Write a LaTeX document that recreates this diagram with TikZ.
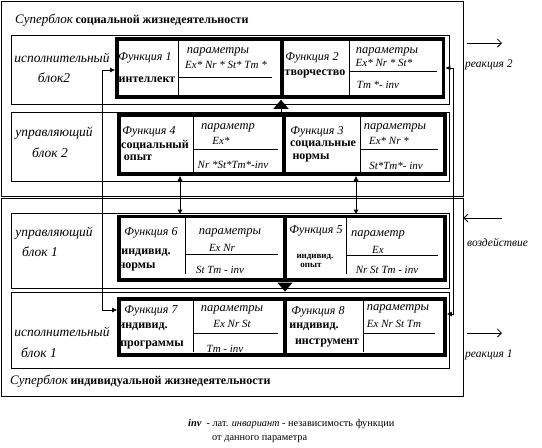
\documentclass[tikz,border=0pt]{standalone}
\usepackage{fontspec}
\setmainfont{Liberation Serif}
\usetikzlibrary{arrows.meta}
\begin{document}
\begin{tikzpicture}[x=1pt,y=-1pt,
  thin line/.style={line width=0.8pt},
  sblock/.style={draw, thin line, rectangle, inner sep=0},
  rowbox/.style={draw, thin line, rectangle, inner sep=0},
  fbox/.style={draw, line width=3.6pt, rectangle, inner sep=0},
  divl/.style={thin line},
  lbl/.style={font=\fontsize{13.5}{15}\selectfont\itshape, inner sep=0},
  fn/.style={font=\fontsize{12}{13}\selectfont\itshape, inner sep=0},
  bd/.style={font=\fontsize{12}{13}\selectfont\bfseries, inner sep=0},
  sbd/.style={font=\fontsize{9}{10}\selectfont\bfseries, inner sep=0},
  pmc/.style={font=\fontsize{12.5}{14}\selectfont\itshape, inner sep=0},
  pm/.style={font=\fontsize{11}{12}\selectfont\itshape, inner sep=0},
  side/.style={font=\fontsize{11.5}{13}\selectfont\itshape, inner sep=0},
  txt/.style={font=\fontsize{10.3}{11}\selectfont, inner sep=0},
  conn/.style={thin line, {Latex[length=5pt,width=5pt]}-{Latex[length=5pt,width=5pt]}},
  outarr/.style={thin line, -{Straight Barb[length=4pt,width=8pt]}},
  bigtri/.style={thin line, -{Triangle[length=9pt,width=15pt]}}
]
\useasboundingbox (0,0) rectangle (542,448);

% superblocks
\node[sblock, minimum width=462pt, minimum height=195pt] (sup1) at (232,98.5) {};
\node[sblock, minimum width=462pt, minimum height=198pt] (sup2) at (232,297) {};

% rows
\node[rowbox, minimum width=438pt, minimum height=69pt] (row1) at (230,69.5) {};
\node[rowbox, minimum width=438pt, minimum height=69pt] (row2) at (230,146.5) {};
\node[rowbox, minimum width=438pt, minimum height=75pt] (row3) at (230,250.5) {};
\node[rowbox, minimum width=438pt, minimum height=76pt] (row4) at (230,330) {};

% function boxes
\node[fbox, minimum width=165pt, minimum height=58pt] (f1) at (199.5,68) {};
\node[fbox, minimum width=161.5pt, minimum height=58pt] (f2) at (362.75,68) {};
\node[fbox, minimum width=165pt, minimum height=59pt] (f4) at (201.5,144.5) {};
\node[fbox, minimum width=161pt, minimum height=59pt] (f3) at (364.5,144.5) {};
\node[fbox, minimum width=166pt, minimum height=63.5pt] (f6) at (202,248.25) {};
\node[fbox, minimum width=160pt, minimum height=63.5pt] (f5) at (365,248.25) {};
\node[fbox, minimum width=166pt, minimum height=56pt] (f7) at (202,327) {};
\node[fbox, minimum width=160pt, minimum height=56pt] (f8) at (365,327) {};

% dividers
\draw[divl] (178,41) -- (178,95) (178,77) -- (272,77);
\draw[divl] (349,41) -- (349,95) (349,71) -- (437,71);
\draw[divl] (193,117) -- (193,172) (193,149) -- (278,149);
\draw[divl] (360,117) -- (360,172) (360,149) -- (438,149);
\draw[divl] (185,218) -- (185,274) (185,254) -- (278,254);
\draw[divl] (346,218) -- (346,274) (346,255) -- (438,255);
\draw[divl] (193,301) -- (193,352) (193,333) -- (278,333);
\draw[divl] (363,301) -- (363,352) (363,333) -- (435,333);

% titles
\node[anchor=west, inner sep=0] (t1) at (15,20) {{\fontsize{13}{14}\selectfont\itshape Суперблок} {\fontsize{12}{14}\selectfont\bfseries социальной жизнедеятельности}};
\node[anchor=west, inner sep=0] (t2) at (10,381) {{\fontsize{13}{14}\selectfont\itshape Суперблок} {\fontsize{12}{14}\selectfont\bfseries индивидуальной жизнедеятельности}};

% row labels
\node[lbl] (l1a) at (62,58) {исполнительный};
\node[lbl] (l1b) at (54,78) {блок2};
\node[lbl] (l2a) at (54,133) {управляющий};
\node[lbl] (l2b) at (50,153) {блок 2};
\node[lbl] (l3a) at (54,233) {управляющий};
\node[lbl] (l3b) at (40,252) {блок 1};
\node[lbl] (l4a) at (62,332) {исполнительный};
\node[lbl] (l4b) at (39,353) {блок 1};

% F1
\node[fn] (f1a) at (145,58) {Функция 1};
\node[bd] (f1b) at (147,80) {интеллект};
\node[pmc] (f1c) at (218,52) {параметры};
\node[pm] (f1d) at (226,65) {Ex* Nr * St* Tm *};
% F2
\node[fn] (f2a) at (312,58) {Функция 2};
\node[bd] (f2b) at (315,74) {творчество};
\node[pmc] (f2c) at (387,52) {параметры};
\node[pm] (f2d) at (384,63) {Ex* Nr * St*};
\node[pm] (f2e) at (378,85) {Tm *- inv};
% F4
\node[fn] (f4a) at (149,132) {Функция 4};
\node[bd] (f4b) at (155,145) {социальный};
\node[bd] (f4c) at (138,158) {опыт};
\node[pmc] (f4d) at (228,128) {параметр};
\node[pm] (f4e) at (221,141) {Ex*};
\node[pm] (f4f) at (233,165) {Nr *St*Tm*-inv};
% F3
\node[fn] (f3a) at (317,132) {Функция 3};
\node[bd] (f3b) at (323,145) {социальные};
\node[bd] (f3c) at (311,158) {нормы};
\node[pmc] (f3d) at (395,128) {параметры};
\node[pm] (f3e) at (389,141) {Ex* Nr *};
\node[pm] (f3f) at (396,166) {St*Tm*- inv};
% F6
\node[fn] (f6a) at (151,233) {Функция 6};
\node[bd] (f6b) at (146,253) {индивид.};
\node[bd] (f6c) at (137,267) {нормы};
\node[pmc] (f6d) at (230,233) {параметры};
\node[pm] (f6e) at (222,248) {Ex Nr};
\node[pm] (f6f) at (220,270) {St Tm - inv};
% F5
\node[fn] (f5a) at (316,231) {Функция 5};
\node[sbd] (f5b) at (315,257) {индивид.};
\node[sbd] (f5c) at (311,265) {опыт};
\node[pmc] (f5d) at (378,235) {параметр};
\node[pm] (f5e) at (378,250) {Ex};
\node[pm] (f5f) at (387,270) {Nr St Tm - inv};
% F7
\node[fn] (f7a) at (151,311) {Функция 7};
\node[bd] (f7b) at (143,327) {индивид.};
\node[bd] (f7c) at (152,345) {программы};
\node[pmc] (f7d) at (232,310) {параметры};
\node[pm] (f7e) at (232,324) {Ex Nr St};
\node[pm] (f7f) at (225,349) {Tm - inv};
% F8
\node[fn] (f8a) at (318,312) {Функция 8};
\node[bd] (f8b) at (314,327) {индивид.};
\node[bd] (f8c) at (327,343) {инструмент};
\node[pmc] (f8d) at (398,309) {параметры};
\node[pm] (f8e) at (394,324) {Ex Nr St Tm};

% connectors
\coordinate (cl1) at (102,70);
\coordinate (cl7) at (102,310);
\draw[conn] (f1.west |- cl1) -- (cl1) -- (cl7) -- (f7.west |- cl7);
\coordinate (cr2) at (453,68);
\coordinate (cr8) at (453,314);
\draw[conn] (f2.east |- cr2) -- (cr2) -- (cr8) -- (f8.east |- cr8);
\coordinate (cv1) at (180,0);
\coordinate (cv2) at (356,0);
\draw[conn] (f4.south -| cv1) -- (f6.north -| cv1);
\draw[conn] (f3.south -| cv2) -- (f6.north -| cv2);
\coordinate (ct1) at (281,0);
\coordinate (ct2) at (285,0);
\draw[bigtri] (row2.north -| ct1) -- ([yshift=-1pt]f1.south -| ct1);
\draw[bigtri] ([yshift=-1pt]f6.south -| ct2) -- (row4.north -| ct2);

% external arrows
\coordinate (ea1) at (467,43);
\coordinate (eb1) at (502,43);
\draw[outarr] (ea1) -- (eb1);
\node[side, anchor=west] (re2) at (465,65) {реакция 2};
\coordinate (ea2) at (502,218);
\draw[outarr] (ea2) -- (sup2.east |- ea2);
\node[side, anchor=west] (vz) at (467,242) {воздействие};
\coordinate (ea3) at (467,333);
\coordinate (eb3) at (502,333);
\draw[outarr] (ea3) -- (eb3);
\node[side, anchor=west] (re1) at (465,355) {реакция 1};

% note
\node[txt, anchor=west] (n1) at (188,424) {\textbf{\textit{inv}}\enspace - лат. \textit{инвариант} - независимость функции};
\node[txt, anchor=west] (n2) at (212,439) {от данного параметра};
\end{tikzpicture}
\end{document}
